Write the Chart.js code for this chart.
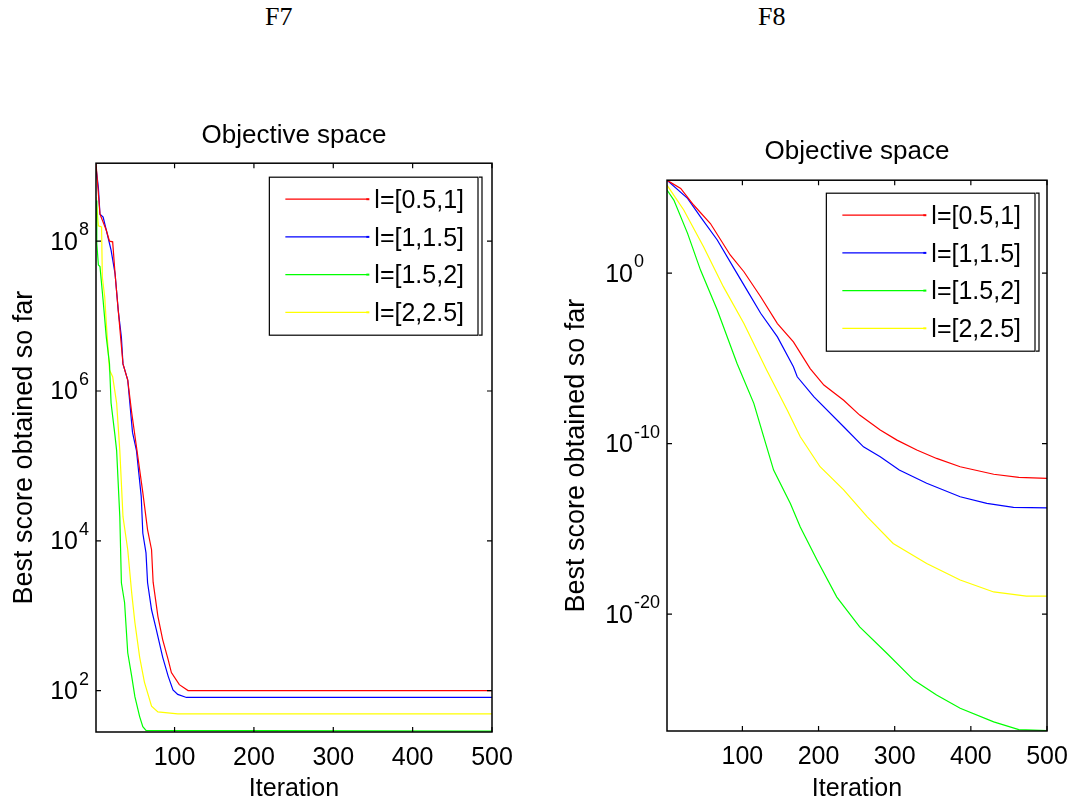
<!DOCTYPE html>
<html>
<head>
<meta charset="utf-8">
<script src="https://cdn.jsdelivr.net/npm/chart.js@4.4.1/dist/chart.umd.min.js"></script>
<style>
  body { margin: 0; background: #fff; width: 1076px; height: 804px; position: relative; overflow: hidden; }
  .titolo { position: absolute; top: 0; font-family: "Times New Roman", "Liberation Serif", serif; font-size: 26px; line-height: 34px; color: #000; }
  canvas { position: absolute; top: 0; }
</style>
</head>
<body>
<div class="titolo" style="left:265px">F7</div>
<div class="titolo" style="left:758px">F8</div>
<canvas id="graficoF7" width="538" height="804" style="left:0"></canvas>
<canvas id="graficoF8" width="538" height="804" style="left:538px"></canvas>

<script>
var FONT = 'Arial, "Liberation Sans", Helvetica, sans-serif';

// etichette e colori delle serie
var etichette = ['l=[0.5,1]', 'l=[1,1.5]', 'l=[1.5,2]', 'l=[2,2.5]'];
var colori = ['#ff0000', '#0000ff', '#00ff00', '#ffff00'];
var tickIter = [100, 200, 300, 400, 500];

// F7 - valori (iterazione, miglior punteggio)
var iterRossoF7 = [1, 6, 14, 18, 22, 25, 29, 35, 41, 46, 52, 60, 66, 71, 73, 79, 85, 92, 96, 106, 117, 500];
var rossoF7 = [1.1e9, 2.3e8, 1.4e8, 1.0e8, 9.8e7, 3.7e7, 1.2e7, 2.3e6, 1.4e6, 5.1e5, 1.8e5, 4.4e4, 1.4e4, 7.6e3, 2.8e3, 980, 480, 257, 174, 120, 100, 100];
var iterBluF7 = [1, 4, 6, 10, 14, 20, 25, 29, 33, 35, 41, 47, 52, 58, 60, 64, 66, 71, 77, 85, 92, 98, 104, 115, 500];
var bluF7 = [9.8e8, 5.2e8, 2.3e8, 2.1e8, 1.4e8, 7.6e7, 3.7e7, 1.2e7, 5.2e6, 2.3e6, 1.4e6, 2.8e5, 1.6e5, 3.9e4, 1.26e4, 6.9e3, 2.75e3, 1.2e3, 650, 280, 155, 102, 89, 81, 81];
var iterVerdeF7 = [1, 2, 4, 6, 10, 14, 18, 20, 25, 27, 31, 33, 37, 41, 46, 50, 56, 60, 64, 500];
var verdeF7 = [3.5e8, 9.3e7, 4.8e7, 4.6e7, 1.6e7, 5.2e6, 2.3e6, 6.9e5, 2.5e5, 1.6e5, 2.1e4, 2.75e3, 1.5e3, 320, 155, 83, 45, 33, 29.5, 28.8];
var iterGialloF7 = [1, 4, 8, 9, 12, 14, 18, 22, 27, 31, 35, 41, 46, 50, 56, 62, 71, 79, 104, 500];
var gialloF7 = [3.9e8, 1.6e8, 1.55e8, 3.3e7, 1.8e7, 8.1e6, 1.9e6, 1.55e6, 6.9e5, 1.6e5, 2.1e4, 7.6e3, 2.0e3, 810, 280, 130, 62, 52, 49, 49];
var tickF7 = [1e2, 1e4, 1e6, 1e8];

// F8
var iterRossoF8 = [1, 19, 36, 58, 84, 102, 124, 146, 167, 189, 207, 233, 254, 281, 303, 329, 355, 386, 430, 463, 500];
var rossoF8 = [2.8e5, 9.3e4, 9.8e3, 810, 11.5, 1.2, 4.1e-2, 1.1e-3, 9.3e-5, 2.5e-6, 2.7e-7, 3.5e-8, 4.7e-9, 6.2e-10, 1.6e-10, 4.2e-11, 1.35e-11, 4.4e-12, 1.6e-12, 1.05e-12, 9.1e-13];
var iterBluF8 = [1, 28, 45, 67, 89, 106, 124, 146, 167, 172, 194, 233, 259, 281, 306, 342, 386, 421, 456, 500];
var bluF8 = [2.8e5, 2.4e4, 2.0e3, 87, 1.9, 0.1, 4.4e-3, 1.8e-4, 3.2e-6, 8.3e-7, 5.5e-8, 9.8e-10, 6.5e-11, 1.7e-11, 2.8e-12, 4.7e-13, 7.6e-14, 3.1e-14, 1.8e-14, 1.7e-14];
var iterVerdeF8 = [1, 10, 28, 45, 67, 93, 115, 128, 141, 163, 176, 198, 224, 254, 290, 325, 355, 386, 430, 463, 500];
var verdeF8 = [7.4e4, 1.9e4, 214, 1.5, 6.8e-3, 5.0e-6, 2.3e-8, 2.5e-10, 2.8e-12, 3.1e-14, 1.3e-15, 1.5e-17, 1.0e-19, 1.8e-21, 4.9e-23, 1.35e-24, 1.8e-25, 3.0e-26, 4.8e-27, 1.7e-27, 1.5e-27];
var iterGialloF8 = [1, 23, 49, 75, 102, 132, 159, 176, 202, 233, 264, 298, 342, 386, 430, 473, 500];
var gialloF8 = [1.45e5, 5.0e3, 35, 0.16, 1.1e-3, 2.0e-6, 9.1e-9, 2.5e-10, 4.4e-12, 1.95e-13, 5.1e-15, 1.4e-16, 9.3e-18, 1.0e-18, 2.0e-19, 1.15e-19, 1.15e-19];
var tickF8 = [1e-20, 1e-10, 1e0];

// Unisce iterazioni e valori in punti {x, y}
function punti(iter, valori) {
  var p = [];
  for (var i = 0; i < iter.length; i++) {
    p.push({ x: iter[i], y: valori[i] });
  }
  return p;
}

function serie(dati) {
  return dati.map(function (d, i) {
    return {
      label: etichette[i],
      data: d,
      borderColor: colori[i],
      backgroundColor: colori[i],
      borderWidth: 1.2,
      pointRadius: 0,
      tension: 0,
      fill: false
    };
  });
}

// Cornice in stile MATLAB, etichette 10^n e legenda interna
var pluginCornice = {
  id: 'cornice',
  afterDatasetsDraw: function (chart, args, opt) {
    var ctx = chart.ctx;
    var a = chart.chartArea;
    var sx = chart.scales.x;
    var sy = chart.scales.y;
    ctx.save();

    // bordo
    ctx.strokeStyle = '#000';
    ctx.lineWidth = 1.5;
    ctx.strokeRect(a.left, a.top, a.right - a.left, a.bottom - a.top);

    // tacche verso l'interno
    ctx.lineWidth = 1.2;
    ctx.beginPath();
    sx.ticks.forEach(function (t) {
      var px = sx.getPixelForValue(t.value);
      ctx.moveTo(px, a.bottom); ctx.lineTo(px, a.bottom - 5);
      ctx.moveTo(px, a.top); ctx.lineTo(px, a.top + 5);
    });
    sy.ticks.forEach(function (t) {
      var py = sy.getPixelForValue(t.value);
      ctx.moveTo(a.left, py); ctx.lineTo(a.left + 5, py);
      ctx.moveTo(a.right, py); ctx.lineTo(a.right - 5, py);
    });
    ctx.stroke();

    // etichette asse y con esponente
    ctx.fillStyle = '#000';
    ctx.font = '18px ' + FONT;
    var esponenti = sy.ticks.map(function (t) { return String(Math.round(Math.log10(t.value))); });
    var largh = Math.max.apply(null, esponenti.map(function (e) { return ctx.measureText(e).width; }));
    var xDieci = a.left - 8 - largh;
    sy.ticks.forEach(function (t, i) {
      var py = sy.getPixelForValue(t.value);
      ctx.textBaseline = 'alphabetic';
      ctx.font = '25px ' + FONT;
      ctx.textAlign = 'right';
      ctx.fillText('10', xDieci, py + 8.5);
      ctx.font = '18px ' + FONT;
      ctx.textAlign = 'left';
      ctx.fillText(esponenti[i], xDieci + 1, py - 6);
    });

    // legenda
    ctx.font = '25px ' + FONT;
    var wTesto = Math.max.apply(null, chart.data.datasets.map(function (d) { return ctx.measureText(d.label).width; }));
    var w = 105 + wTesto + 14;
    var h = 158;
    var bx = a.right - opt.destra - w;
    var by = a.top + opt.alto;
    ctx.fillStyle = '#fff';
    ctx.fillRect(bx, by, w, h);
    ctx.strokeStyle = '#000';
    ctx.lineWidth = 1.2;
    ctx.strokeRect(bx, by, w, h);
    ctx.beginPath();
    ctx.moveTo(bx + w + 1, by); ctx.lineTo(bx + w + 4, by);
    ctx.lineTo(bx + w + 4, by + h); ctx.lineTo(bx + w + 1, by + h);
    ctx.stroke();
    chart.data.datasets.forEach(function (d, i) {
      var ry = by + 22 + 37.7 * i;
      ctx.strokeStyle = d.borderColor;
      ctx.lineWidth = 1.2;
      ctx.beginPath();
      ctx.moveTo(bx + 16, ry); ctx.lineTo(bx + 98, ry);
      ctx.stroke();
      ctx.fillStyle = d.borderColor;
      ctx.fillRect(bx + 97, ry - 1, 3, 2);
      ctx.fillStyle = '#000';
      ctx.textAlign = 'left';
      ctx.textBaseline = 'middle';
      ctx.fillText(d.label, bx + 105, ry + 2);
    });

    ctx.restore();
  }
};

function creaGrafico(idCanvas, datasets, yMin, yMax, tickY, imp) {
  var canvas = document.getElementById(idCanvas).getContext('2d');
  return new Chart(canvas, {
    type: 'line',
    data: { datasets: datasets },
    options: {
      responsive: false,
      animation: false,
      devicePixelRatio: 1,
      layout: { padding: { top: imp.padAlto, right: imp.padDestra, left: 0, bottom: 0 } },
      plugins: {
        legend: { display: false },
        tooltip: { enabled: false },
        title: {
          display: true,
          text: 'Objective space',
          fullSize: false,
          color: '#000',
          font: { family: FONT, size: 26, weight: 'normal' },
          padding: { top: 0, bottom: imp.padTitolo }
        },
        cornice: { destra: imp.legDestra, alto: imp.legAlto }
      },
      scales: {
        x: {
          type: 'linear',
          min: 1,
          max: 500,
          bounds: 'data',
          grid: { display: false },
          border: { display: false },
          ticks: { color: '#000', font: { family: FONT, size: 25 }, padding: 3, maxRotation: 0, autoSkip: false },
          afterBuildTicks: function (s) { s.ticks = tickIter.map(function (v) { return { value: v }; }); },
          afterFit: function (s) { s.height = imp.altX; },
          title: { display: true, text: 'Iteration', color: '#000', font: { family: FONT, size: 25 }, padding: { top: 0, bottom: 0 } }
        },
        y: {
          type: 'logarithmic',
          min: yMin,
          max: yMax,
          bounds: 'data',
          grid: { display: false },
          border: { display: false },
          ticks: { display: false },
          afterBuildTicks: function (s) { s.ticks = tickY.map(function (v) { return { value: v }; }); },
          afterFit: function (s) { s.width = imp.largY; },
          title: { display: true, text: 'Best score obtained so far', color: '#000', font: { family: FONT, size: 27 }, padding: { top: imp.padTitoloY, bottom: 0 } }
        }
      }
    },
    plugins: [pluginCornice]
  });
}

var graficoF7 = creaGrafico('graficoF7', serie([
  punti(iterRossoF7, rossoF7),
  punti(iterBluF7, bluF7),
  punti(iterVerdeF7, verdeF7),
  punti(iterGialloF7, gialloF7)
]), 28, 1.1e9, tickF7, {
  padAlto: 120, padDestra: 46, padTitolo: 12, altX: 72, largY: 96, padTitoloY: 8, legDestra: 14, legAlto: 14
});

var graficoF8 = creaGrafico('graficoF8', serie([
  punti(iterRossoF8, rossoF8),
  punti(iterBluF8, bluF8),
  punti(iterVerdeF8, verdeF8),
  punti(iterGialloF8, gialloF8)
]), 1.4e-27, 2.8e5, tickF8, {
  padAlto: 136, padDestra: 29, padTitolo: 13, altX: 73, largY: 129, padTitoloY: 22, legDestra: 12, legAlto: 13
});
</script>
</body>
</html>
